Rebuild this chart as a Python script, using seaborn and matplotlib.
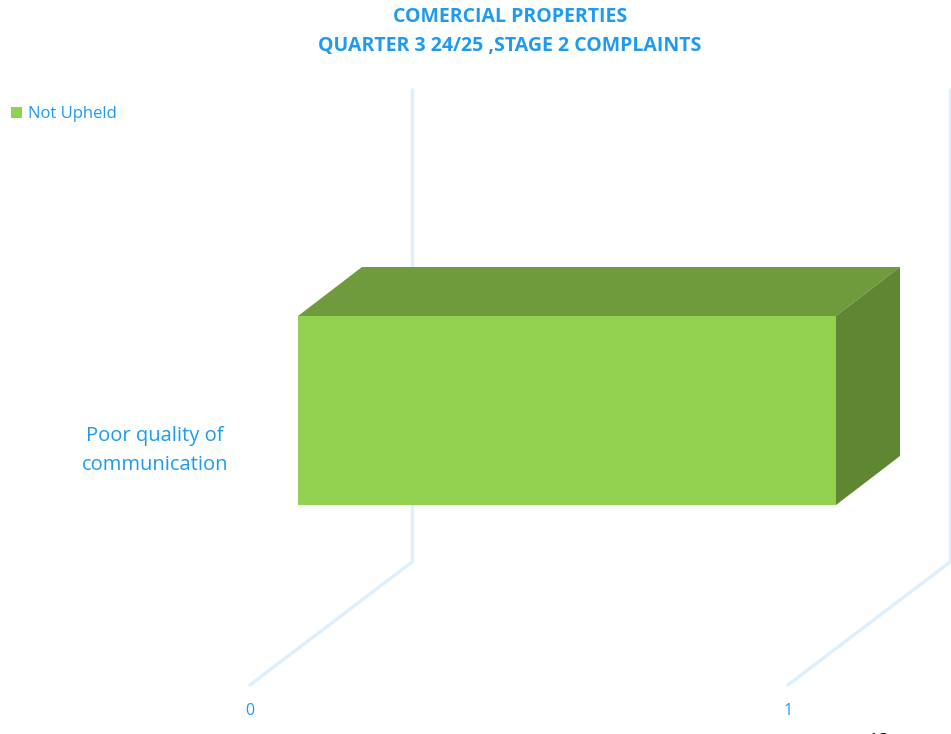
import matplotlib
matplotlib.use("Agg")
import matplotlib.pyplot as plt
import seaborn as sns
import pandas as pd
from matplotlib.patches import Polygon, Patch

# ---- data ----
categories = ["Poor quality of\ncommunication"]
not_upheld = [1]
series_name = "Not Upheld"
ticks = [0, 1]
title_lines = ["COMERCIAL PROPERTIES", "QUARTER 3 24/25 ,STAGE 2 COMPLAINTS"]

FRONT = "#92D050"
TOP = "#709B3C"
SIDE = "#5F8632"
BLUE = "#1E9BF0"
GRID = "#DDEFFD"

sns.set_theme(style="white")
plt.rcParams["font.family"] = ["Open Sans", "DejaVu Sans"]

W, H = 951, 734
fig = plt.figure(figsize=(W / 100, H / 100), dpi=100)
ax = fig.add_axes([0, 0, 1, 1])

df = pd.DataFrame({"category": categories, "value": not_upheld})
sns.barplot(data=df, x="value", y="category", orient="h", color=FRONT,
            width=0.8, saturation=1, ax=ax, zorder=3, edgecolor="none")

# pixel mapping: value 0 -> px 298, value 1 -> px 836 ; bar center -> py 410.5, 0.8 -> 189 px
px0, px1 = 298, 836
sx = px1 - px0
py_c = 410.5
sy = 189 / 0.8
ax.set_xlim((0 - px0) / sx, (W - px0) / sx)
ax.set_ylim((H - py_c) / sy, (0 - py_c) / sy)
ax.axis("off")

def py(p):
    return (p - py_c) / sy

# depth offsets (data units)
dx = 64 / sx
dy = -49 / sy
# full depth of floor
Dx = 162 / sx
Dy = -123 / sy

# back wall gridlines & floor lines
back_top = py(88)
back_bot = py(562)
for t in ticks:
    xb = t + 114 / sx  # back wall position
    ax.plot([xb, xb], [back_top, back_bot], color=GRID, lw=2.4, zorder=1,
            solid_capstyle="butt")
    ax.plot([xb, xb - Dx], [back_bot, back_bot - Dy], color=GRID, lw=2.4, zorder=1)
    ax.text(xb - Dx, py(711), str(t), color=BLUE, fontsize=11.5,
            ha="center", va="center")

# 3D faces from the seaborn bar patch
for p in ax.patches[:]:
    x0 = p.get_x()
    w = p.get_width()
    y0 = p.get_y()
    h = p.get_height()
    yt, yb = y0, y0 + h
    x1 = x0 + w
    top = Polygon([(x0, yt), (x1, yt), (x1 + dx, yt + dy), (x0 + dx, yt + dy)],
                  closed=True, facecolor=TOP, edgecolor="none", zorder=3)
    side = Polygon([(x1, yt), (x1 + dx, yt + dy), (x1 + dx, yb + dy), (x1, yb)],
                   closed=True, facecolor=SIDE, edgecolor="none", zorder=3)
    ax.add_patch(top)
    ax.add_patch(side)

# category label
ax.text((228 - px0) / sx, py(450), categories[0], color=BLUE, fontsize=14.5,
        ha="right", va="center", multialignment="center", linespacing=1.6)

# title
fig.text(510 / W, 1 - 17.5 / H, title_lines[0], color=BLUE, fontsize=14,
         fontweight="bold", ha="center", va="center")
fig.text(510 / W, 1 - 45.5 / H, title_lines[1], color=BLUE, fontsize=14,
         fontweight="bold", ha="center", va="center")

# legend
leg = ax.legend(handles=[Patch(facecolor=FRONT, edgecolor="none", label=series_name)],
                loc="center left", bbox_to_anchor=(11 / W, 1 - 114 / H),
                bbox_transform=fig.transFigure, frameon=False, fontsize=12,
                handlelength=0.65, handleheight=0.65, handletextpad=0.35,
                borderaxespad=0, borderpad=0)
for t in leg.get_texts():
    t.set_color(BLUE)

# page number (cut off at bottom, as in the reference)
fig.text(878 / W, 1 - 741 / H, "12", color="black", fontsize=14,
         ha="center", va="center")

fig.savefig("out.png", dpi=100)
